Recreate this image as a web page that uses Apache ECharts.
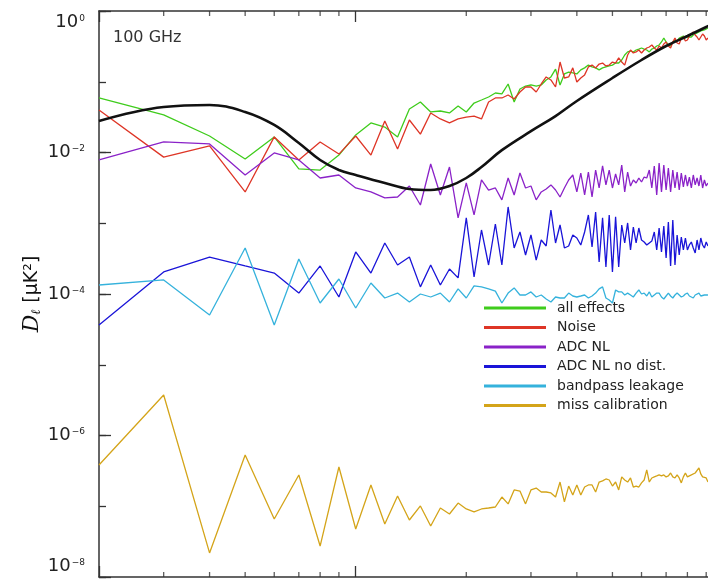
<!DOCTYPE html>
<html>
<head>
<meta charset="utf-8">
<script src="https://cdn.jsdelivr.net/npm/echarts@6/dist/echarts.min.js"></script>
<style>
html, body { margin: 0; padding: 0; background: #fff; }
#main { width: 708px; height: 581px; }
</style>
</head>
<body>
<div id="main"></div>
<script>
// multipole bins (Delta l = 10)
var ells = [20, 30, 40, 50, 60, 70, 80, 90, 100, 110, 120, 130, 140, 150, 160, 170, 180, 190, 200,
    210, 220, 230, 240, 250, 260, 270, 280, 290, 300, 310, 320, 330, 340, 350, 360, 370, 380, 390, 400,
    410, 420, 430, 440, 450, 460, 470, 480, 490, 500, 510, 520, 530, 540, 550, 560, 570, 580, 590, 600,
    610, 620, 630, 640, 650, 660, 670, 680, 690, 700, 710, 720, 730, 740, 750, 760, 770, 780, 790, 800,
    810, 820, 830, 840, 850, 860, 870, 880, 890, 900, 910];

var allEffects = [0.059, 0.034, 0.0171, 0.0081, 0.0166, 0.00585, 0.00565, 0.0092, 0.0177, 0.0262, 0.0229, 0.0166, 0.0412, 0.0518, 0.0374, 0.0386, 0.0362, 0.0454, 0.0374,
    0.050, 0.0552, 0.0609, 0.0693, 0.0672, 0.093, 0.0518, 0.079, 0.087, 0.090, 0.087, 0.090, 0.106, 0.117, 0.151, 0.090, 0.129, 0.137, 0.133, 0.129,
    0.147, 0.157, 0.172, 0.162, 0.157, 0.147, 0.157, 0.162, 0.167, 0.172, 0.184, 0.184, 0.203, 0.239, 0.264, 0.272, 0.264, 0.281, 0.290, 0.300,
    0.290, 0.281, 0.264, 0.290, 0.300, 0.320, 0.331, 0.365, 0.415, 0.365, 0.331, 0.320, 0.365, 0.389, 0.377, 0.415, 0.429, 0.443, 0.415, 0.429,
    0.402, 0.429, 0.458, 0.473, 0.489, 0.489, 0.522, 0.505, 0.539, 0.557, 0.575];

var noise = [0.0399, 0.0086, 0.0124, 0.00277, 0.0166, 0.00784, 0.0141, 0.0095, 0.0171, 0.0092, 0.0279, 0.0112, 0.0288, 0.0182, 0.0362, 0.0298, 0.0262, 0.0298, 0.0317,
    0.0327, 0.0298, 0.0518, 0.059, 0.059, 0.065, 0.057, 0.0716, 0.0843, 0.0843, 0.0716, 0.093, 0.117, 0.106, 0.0843, 0.190, 0.113, 0.117, 0.157, 0.099,
    0.113, 0.125, 0.162, 0.172, 0.157, 0.178, 0.184, 0.167, 0.172, 0.190, 0.184, 0.217, 0.190, 0.172, 0.239, 0.281, 0.255, 0.264, 0.281, 0.255,
    0.281, 0.300, 0.310, 0.331, 0.300, 0.281, 0.320, 0.300, 0.342, 0.365, 0.320, 0.300, 0.365, 0.415, 0.353, 0.342, 0.415, 0.429, 0.377, 0.389,
    0.443, 0.473, 0.505, 0.458, 0.429, 0.389, 0.415, 0.473, 0.443, 0.389, 0.415];

var adcNL = [0.00784, 0.0141, 0.0132, 0.00481, 0.00984, 0.00784, 0.00436, 0.00481, 0.00315, 0.00277, 0.00228, 0.00235, 0.00336, 0.00181, 0.00688, 0.00251, 0.00624, 0.00119, 0.00371,
    0.00131, 0.00409, 0.00295, 0.00315, 0.00214, 0.00436, 0.00251, 0.00513, 0.00315, 0.00336, 0.00214, 0.00277, 0.00305, 0.00348, 0.00295, 0.00235, 0.00315, 0.00409, 0.00481, 0.00277,
    0.00513, 0.00251, 0.0053, 0.00235, 0.00565, 0.00315, 0.00645, 0.00348, 0.00565, 0.00315, 0.00497, 0.00348, 0.00666, 0.00277, 0.0053, 0.00336, 0.00409, 0.00371, 0.00436, 0.00383,
    0.0045, 0.00436, 0.00565, 0.00315, 0.00645, 0.00251, 0.0071, 0.00277, 0.00666, 0.00295, 0.00604, 0.00277, 0.00565, 0.00315, 0.0053, 0.00295, 0.00513, 0.00326, 0.00481, 0.00336,
    0.0045, 0.00315, 0.00481, 0.00348, 0.00436, 0.00336, 0.00481, 0.00315, 0.00409, 0.00336, 0.00371];

var adcNLnoDist = [3.65e-5, 2.05e-4, 3.33e-4, 2.49e-4, 1.98e-4, 1.03e-4, 2.49e-4, 9.07e-5, 3.93e-4, 1.98e-4, 5.26e-4, 2.57e-4, 3.33e-4, 1.26e-4, 2.57e-4, 1.34e-4, 2.26e-4, 1.69e-4, 1.19e-3,
    1.74e-4, 8.03e-4, 2.57e-4, 9.76e-4, 2.57e-4, 1.70e-3, 4.47e-4, 7.52e-4, 3.56e-4, 6.83e-4, 3.02e-4, 5.8e-4, 4.77e-4, 1.54e-3, 5.26e-4, 9.45e-4, 4.47e-4, 4.77e-4, 6.83e-4, 6.19e-4,
    4.93e-4, 7.52e-4, 1.31e-3, 4.62e-4, 1.44e-3, 2.84e-4, 1.19e-3, 2.41e-4, 1.31e-3, 2.05e-4, 1.23e-3, 2.41e-4, 9.45e-4, 5.26e-4, 1.01e-3, 4.19e-4, 8.85e-4, 5.26e-4, 8.57e-4, 5.8e-4,
    5.43e-4, 4.93e-4, 5.26e-4, 5.6e-4, 7.52e-4, 4.19e-4, 8.57e-4, 3.93e-4, 9.15e-4, 3.23e-4, 1.04e-3, 2.49e-4, 1.11e-3, 2.57e-4, 6.83e-4, 3.56e-4, 6.39e-4, 4.19e-4, 6.19e-4, 4.19e-4,
    4.93e-4, 5.43e-4, 4.47e-4, 3.8e-4, 5.8e-4, 4.19e-4, 6.19e-4, 4.93e-4, 4.47e-4, 5.43e-4, 4.77e-4];

var bandpass = [1.34e-4, 1.58e-4, 5.05e-5, 4.47e-4, 3.65e-5, 3.13e-4, 7.46e-5, 1.63e-4, 6.34e-5, 1.43e-4, 8.78e-5, 1.03e-4, 7.71e-5, 1.0e-4, 9.07e-5, 1.03e-4, 7.71e-5, 1.18e-4, 8.78e-5,
    1.30e-4, 1.26e-4, 1.18e-4, 1.10e-4, 7.46e-5, 1.03e-4, 1.22e-4, 9.68e-5, 9.68e-5, 1.07e-4, 9.07e-5, 9.68e-5, 8.50e-5, 7.71e-5, 9.07e-5, 8.78e-5, 8.78e-5, 1.03e-4, 9.37e-5, 9.07e-5,
    9.37e-5, 9.68e-5, 8.78e-5, 9.37e-5, 1.03e-4, 1.18e-4, 1.26e-4, 8.78e-5, 8.23e-5, 7.46e-5, 1.14e-4, 1.07e-4, 1.07e-4, 9.68e-5, 1.03e-4, 9.68e-5, 9.07e-5, 1.03e-4, 1.14e-4, 1.0e-4,
    1.03e-4, 9.37e-5, 1.07e-4, 9.07e-5, 9.68e-5, 1.03e-4, 1.03e-4, 9.07e-5, 8.50e-5, 9.37e-5, 1.03e-4, 9.37e-5, 8.78e-5, 9.68e-5, 1.03e-4, 9.68e-5, 9.07e-5, 9.37e-5, 1.0e-4, 1.03e-4,
    9.37e-5, 9.07e-5, 8.78e-5, 9.68e-5, 1.0e-4, 1.03e-4, 9.37e-5, 8.78e-5, 9.68e-5, 9.37e-5, 9.68e-5];

var missCal = [3.83e-7, 3.74e-6, 2.19e-8, 5.3e-7, 6.6e-8, 2.77e-7, 2.74e-8, 3.59e-7, 4.77e-8, 2.0e-7, 5.61e-8, 1.40e-7, 6.39e-8, 1.01e-7, 5.26e-8, 9.45e-8, 7.77e-8, 1.11e-7, 9.15e-8,
    8.3e-8, 9.15e-8, 9.45e-8, 9.76e-8, 1.35e-7, 1.08e-7, 1.70e-7, 1.64e-7, 1.08e-7, 1.70e-7, 1.81e-7, 1.59e-7, 1.59e-7, 1.54e-7, 1.35e-7, 2.2e-7, 1.15e-7, 1.93e-7, 1.44e-7, 2.0e-7,
    1.44e-7, 1.87e-7, 2.0e-7, 2.0e-7, 1.59e-7, 2.2e-7, 2.28e-7, 2.43e-7, 2.35e-7, 1.93e-7, 2.2e-7, 1.70e-7, 2.6e-7, 2.35e-7, 2.2e-7, 2.51e-7, 1.87e-7, 1.93e-7, 1.87e-7, 2.14e-7,
    2.35e-7, 3.26e-7, 2.2e-7, 2.51e-7, 2.6e-7, 2.68e-7, 2.77e-7, 2.68e-7, 2.77e-7, 2.6e-7, 2.68e-7, 2.95e-7, 2.6e-7, 2.51e-7, 2.77e-7, 2.51e-7, 2.14e-7, 2.6e-7, 2.95e-7, 2.6e-7,
    2.51e-7, 2.77e-7, 2.68e-7, 2.95e-7, 3.05e-7, 3.48e-7, 2.86e-7, 2.6e-7, 2.77e-7, 2.51e-7, 2.2e-7];

// smooth black reference spectrum
var theoryEll = [20, 30, 40, 50, 60, 70, 80, 90, 100, 120, 140, 160, 180, 200, 220, 250, 300, 350, 400, 500, 600, 700, 800, 900, 1000];
var theory = [0.0279, 0.044, 0.047, 0.0374, 0.0245, 0.0136, 0.00784, 0.00565, 0.00481, 0.00371, 0.00305, 0.00295, 0.00336, 0.00436, 0.00624,
    0.0108, 0.0200, 0.0327, 0.0535, 0.113, 0.203, 0.320, 0.443, 0.594, 0.771];

// x minor tick positions (drawn as marks through the x scale)
var xMinorTicks = [30, 40, 50, 60, 70, 80, 90, 200, 300, 400, 500, 600, 700, 800, 900];

var names = ['all effects', 'Noise', 'ADC NL', 'ADC NL no dist.', 'bandpass leakage', 'miss calibration'];
var colors = ['#3fcc1c', '#de3526', '#8a22c8', '#1a14d8', '#35b2dc', '#d4a419'];
var values = [allEffects, noise, adcNL, adcNLnoDist, bandpass, missCal];

var FONT = 'DejaVu Sans';

var myChart = echarts.init(document.getElementById('main'));

function pairs(xs, ys) {
    var out = [];
    for (var i = 0; i < xs.length; i++) {
        out.push([xs[i], ys[i]]);
    }
    return out;
}

var series = [];
for (var k = 0; k < names.length; k++) {
    series.push({
        name: names[k],
        type: 'line',
        data: pairs(ells, values[k]),
        symbol: 'none',
        showSymbol: false,
        lineStyle: { color: colors[k], width: 1.3 },
        itemStyle: { color: colors[k] },
        emphasis: { disabled: true },
        z: 3
    });
}

series.push({
    name: 'theory',
    type: 'line',
    data: pairs(theoryEll, theory),
    symbol: 'none',
    showSymbol: false,
    smooth: 0.4,
    lineStyle: { color: '#111', width: 2.6 },
    itemStyle: { color: '#111' },
    emphasis: { disabled: true },
    z: 4
});

// short minor ticks on bottom and top frame
series.push({
    type: 'scatter',
    data: xMinorTicks.map(function (l) { return [l, 1e-8]; }),
    symbol: 'rect',
    symbolSize: [1.3, 5],
    symbolOffset: [0, -2.5],
    itemStyle: { color: '#333' },
    clip: false,
    silent: true,
    z: 5
});
series.push({
    type: 'scatter',
    data: xMinorTicks.map(function (l) { return [l, 1]; }),
    symbol: 'rect',
    symbolSize: [1.3, 5],
    symbolOffset: [0, 2.5],
    itemStyle: { color: '#333' },
    clip: false,
    silent: true,
    z: 5
});

var option = {
    animation: false,
    backgroundColor: '#fff',
    title: {
        text: '100 GHz',
        left: 108,
        top: 25,
        textStyle: { fontFamily: FONT, fontSize: 16, fontWeight: 'normal', color: '#333' }
    },
    legend: {
        orient: 'vertical',
        left: 484,
        top: 301,
        padding: 0,
        itemWidth: 62,
        itemHeight: 3,
        itemGap: 5.5,
        icon: 'rect',
        data: names,
        textStyle: { fontFamily: FONT, fontSize: 14, color: '#222', lineHeight: 14, padding: [0, 0, 0, 6] }
    },
    grid: {
        left: 99,
        top: 11,
        width: 624,
        height: 566,
        outerBoundsMode: 'none'
    },
    xAxis: [
        {
            type: 'log',
            logBase: 10,
            min: 20,
            max: 1000,
            position: 'bottom',
            axisLine: { lineStyle: { color: '#333', width: 1.5 } },
            axisTick: { inside: true, length: 11, lineStyle: { color: '#333', width: 1.3 } },
            axisLabel: { show: false },
            splitLine: { show: false }
        },
        {
            type: 'log',
            logBase: 10,
            min: 20,
            max: 1000,
            position: 'top',
            axisLine: { lineStyle: { color: '#333', width: 1.5 } },
            axisTick: { inside: true, length: 11, lineStyle: { color: '#333', width: 1.3 } },
            axisLabel: { show: false },
            splitLine: { show: false }
        }
    ],
    yAxis: [
        {
            // every decade: short ticks
            type: 'log',
            logBase: 10,
            min: 1e-8,
            max: 1,
            position: 'left',
            axisLine: { show: false },
            axisTick: { inside: true, length: 7, lineStyle: { color: '#333', width: 1.3 } },
            axisLabel: { show: false },
            splitLine: { show: false }
        },
        {
            // every second decade: long ticks + labels
            type: 'log',
            logBase: 100,
            min: 1e-8,
            max: 1,
            position: 'left',
            name: '{d|D}{l|\u2113}  {t|[\u03bcK\u00b2]}',
            nameLocation: 'middle',
            nameGap: 56,
            nameMoveOverlap: false,
            nameTextStyle: {
                color: '#111',
                rich: {
                    d: { fontFamily: 'DejaVu Serif', fontStyle: 'italic', fontSize: 22, color: '#111' },
                    l: { fontFamily: 'DejaVu Serif', fontStyle: 'italic', fontSize: 13, color: '#111', verticalAlign: 'bottom', padding: [9, 0, 0, 0] },
                    t: { fontFamily: FONT, fontSize: 19, color: '#111' }
                }
            },
            axisLine: { show: true, lineStyle: { color: '#333', width: 1.5 } },
            axisTick: { inside: true, length: 12, lineStyle: { color: '#333', width: 1.3 } },
            axisLabel: {
                margin: 14,
                verticalAlignMinLabel: 'bottom',
                verticalAlignMaxLabel: 'top',
                formatter: function (v) {
                    var e = Math.round(Math.log10(v));
                    return '{b|10}{s|' + (e < 0 ? '\u2212' + (-e) : e) + '}';
                },
                rich: {
                    b: { fontFamily: FONT, fontSize: 18, lineHeight: 22, color: '#222' },
                    s: { fontFamily: FONT, fontSize: 9, lineHeight: 9, color: '#222', verticalAlign: 'top', padding: [3, 0, 0, 1] }
                }
            },
            splitLine: { show: false }
        }
    ],
    series: series
};

myChart.setOption(option);
</script>
</body>
</html>
